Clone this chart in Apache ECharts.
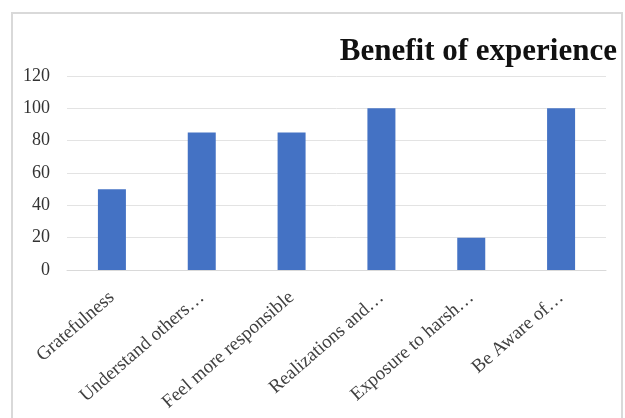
<!DOCTYPE html>
<html>
<head>
<meta charset="utf-8">
<script src="https://cdn.jsdelivr.net/npm/echarts@6/dist/echarts.min.js"></script>
<style>
    html,body{margin:0;padding:0;background:#fff;}
    #frame{position:absolute;left:11px;top:12px;width:612px;height:430px;border:2px solid #d9d9d9;box-sizing:border-box;}
    #main{position:absolute;left:0;top:0;width:625px;height:418px;}
</style>
</head>
<body>
<div id="frame"></div>
<div id="main"></div>
<script>
var categories = ["Gratefulness", "Understand others…", "Feel more responsible", "Realizations and…", "Exposure to harsh…", "Be Aware of…"];
var values = [50, 85, 85, 100, 20, 100];
var yTicks = [0, 20, 40, 60, 80, 100, 120];

var mychart = echarts.init(document.getElementById("main"));
mychart.setOption({
    title: {
        text: "Benefit of experience",
        right: 3,
        top: 31,
        textStyle: {
            fontFamily: "Liberation Serif",
            fontWeight: "bold",
            fontSize: 31,
            color: "#111"
        }
    },
    grid: {
        left: 67,
        right: 19,
        top: 76,
        bottom: 148
    },
    xAxis: {
        type: "category",
        data: categories,
        axisTick: {show: false},
        axisLine: {lineStyle: {color: "#d9d9d9", width: 1}},
        axisLabel: {
            rotate: 41,
            interval: 0,
            margin: 25,
            fontFamily: "Liberation Serif",
            fontSize: 19,
            color: "#404040"
        }
    },
    yAxis: {
        type: "value",
        min: yTicks[0],
        max: yTicks[yTicks.length - 1],
        interval: 20,
        axisLine: {show: false},
        axisTick: {show: false},
        splitLine: {lineStyle: {color: "#e3e3e3", width: 1}},
        axisLabel: {
            margin: 17,
            fontFamily: "Liberation Serif",
            fontSize: 18,
            color: "#333"
        }
    },
    series: [{
        type: "bar",
        data: values,
        barWidth: 28,
        itemStyle: {color: "#4472c4"}
    }]
});
</script>
</body>
</html>
